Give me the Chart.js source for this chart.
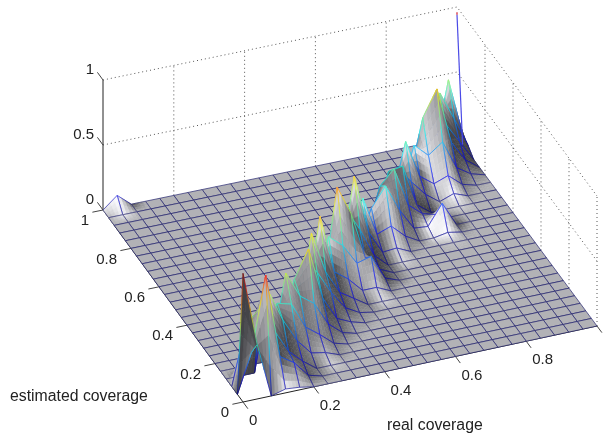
<!DOCTYPE html>
<html>
<head>
<meta charset="utf-8">
<title>coverage surface</title>
<script src="https://cdn.jsdelivr.net/npm/chart.js@4"></script>
<style>
  html, body { margin: 0; padding: 0; background: #fff; }
  canvas { display: block; }
</style>
</head>
<body>
<canvas id="chart" width="605" height="438"></canvas>
<script>
'use strict';

// grid is 26 x 26 vertices, 0.04 apart on both axes
const gridCells = 25;

const realTicks = [0, 0.2, 0.4, 0.6, 0.8];
const estimatedTicks = [0, 0.2, 0.4, 0.6, 0.8, 1];
const zTicks = [0, 0.5, 1];

// heights as [real cell, estimated cell, height]
// everything not listed is flat at 0
const ridgeTips = [
  [0, 0, 0.99], [2, 1, 0.87], [5, 5, 0.58], [7, 6, 0.66], [8, 8, 0.64], [9, 9, 0.69],
  [11, 11, 0.75], [13, 13, 0.67], [16, 15, 0.41], [17, 16, 0.46], [19, 19, 0.45],
  [21, 21, 0.47], [22, 21, 0.67], [24, 24, 0.52]
];
const ridgeValleys = [
  [1, 0, 0.42], [1, 1, 0.3], [1, 2, 0.45], [2, 2, 0.56], [3, 3, 0.6], [4, 4, 0.43],
  [6, 6, 0.45], [7, 7, 0.5], [10, 10, 0.45], [12, 12, 0.5], [14, 14, 0.42], [15, 15, 0.26],
  [16, 16, 0.35], [17, 17, 0.38], [18, 17, 0.4], [18, 18, 0.33], [20, 20, 0.34],
  [22, 22, 0.5], [23, 23, 0.5]
];
const frontFlanks = [
  [3, 2, 0.36], [3, 1, 0.22], [3, 0, 0.03],
  [4, 3, 0.36], [4, 2, 0.18], [4, 0, 0.02],
  [5, 4, 0.4], [5, 3, 0.18], [5, 2, 0.08], [5, 1, 0.03],
  [6, 5, 0.38], [6, 4, 0.2], [6, 3, 0.06],
  [7, 5, 0.3], [7, 4, 0.12], [7, 3, 0.04],
  [8, 7, 0.4], [8, 6, 0.26], [8, 5, 0.12], [8, 4, 0.03],
  [9, 8, 0.32], [9, 6, 0.08], [9, 5, 0.03],
  [10, 9, 0.24], [10, 8, 0.14], [10, 7, 0.08], [10, 6, 0.03],
  [11, 10, 0.36], [11, 9, 0.16], [11, 8, 0.07], [11, 7, 0.02],
  [12, 11, 0.52], [12, 9, 0.05],
  [13, 12, 0.32], [13, 11, 0.16], [13, 9, 0.05],
  [14, 13, 0.22], [14, 12, 0.1], [14, 11, 0.05], [14, 10, 0.04],
  [15, 14, 0.12], [15, 13, 0.04],
  [16, 14, 0.16], [16, 13, 0.05],
  [17, 15, 0.2], [17, 14, 0.06],
  [18, 15, 0.04],
  [19, 18, 0.2], [19, 17, 0.08], [19, 16, 0.07], [19, 15, 0.03],
  [20, 19, 0.16], [20, 18, 0.08], [20, 16, 0.04], [20, 14, 0.02],
  [21, 20, 0.24], [21, 19, 0.08],
  [22, 20, 0.32], [22, 19, 0.12], [22, 18, 0.04],
  [23, 22, 0.32], [23, 21, 0.24], [23, 20, 0.1], [23, 19, 0.03],
  [24, 23, 0.28], [24, 22, 0.16], [24, 21, 0.08], [24, 20, 0.03],
  [25, 24, 0.08], [25, 23, 0.05]
];
const sideBumps = [
  [4, 1, 0.15], [9, 7, 0.22], [12, 10, 0.2], [13, 10, 0.23], [18, 16, 0.16], [20, 15, 0.185], [1, 25, 0.09]
];
// thin line that goes up near the far corner
const cornerSpike = [[1, 0.96, 0], [1, 1, 0.94], [1, 1, 0.96]];

// where the axes box sits on the page, in scale units
const floorCorners = { x00: 243, y00: 402, x10: 597, y10: 326, x01: 103, y01: 210, x11: 457, y11: 137 };
const zHeight = 130;
const lightDir = [-0.5, -0.65, 0.57];
const slopeScale = 0.9;
const subSteps = 4;

let heights = [];
for (let i = 0; i <= gridCells; i++) {
  heights.push(new Array(gridCells + 1).fill(0));
}
for (const list of [ridgeTips, ridgeValleys, frontFlanks, sideBumps]) {
  for (const b of list) {
    heights[b[0]][b[1]] = b[2];
  }
}

function project(real, est, z) {
  const c = floorCorners;
  const a = (1 - real) * (1 - est), b = real * (1 - est), d = (1 - real) * est, e = real * est;
  return {
    x: a * c.x00 + b * c.x10 + d * c.x01 + e * c.x11,
    y: a * c.y00 + b * c.y10 + d * c.y01 + e * c.y11 - z * zHeight,
    z: z
  };
}

function jet(z) {
  const ramp = (v) => Math.max(0, Math.min(1, v));
  const r = ramp(Math.min(4 * z - 1.5, -4 * z + 4.5));
  const g = ramp(Math.min(4 * z - 0.5, -4 * z + 3.5));
  const b = ramp(Math.min(4 * z + 0.5, -4 * z + 2.5));
  return `rgb(${Math.round(r * 255)},${Math.round(g * 255)},${Math.round(b * 255)})`;
}

// vertex brightness from the surface normal
// the slope in estimated coverage leans on the side that faces the viewer
function vertexShade(i, j) {
  const h = (a, b) => heights[Math.max(0, Math.min(gridCells, a))][Math.max(0, Math.min(gridCells, b))];
  const dx = (h(i + 1, j) - h(i - 1, j)) / 0.08 * slopeScale;
  const dy = (0.75 * (h(i, j) - h(i, j - 1)) + 0.25 * (h(i, j + 1) - h(i, j))) / 0.04 * slopeScale;
  const len = Math.sqrt(dx * dx + dy * dy + 1);
  const d = Math.max(0, (-dx * lightDir[0] - dy * lightDir[1] + lightDir[2]) / len);
  return Math.min(1, 0.25 + 0.77 * d + 0.3 * Math.pow(d, 6));
}

let shades = [];
for (let i = 0; i <= gridCells; i++) {
  shades.push([]);
  for (let j = 0; j <= gridCells; j++) {
    shades[i].push(vertexShade(i, j));
  }
}

function grey(s) {
  const v = Math.round(s * 255);
  return `rgb(${v},${v},${Math.min(255, v + 4)})`;
}

const canvas = document.getElementById('chart');
const ctx2d = canvas.getContext('2d');
const floorLine = '#24246e';

function edgeColor(pts) {
  return function (c) {
    const a = pts[c.p0DataIndex], b = pts[c.p1DataIndex];
    if (a.z < 0.005 && b.z < 0.005) {
      return floorLine;
    }
    const g = ctx2d.createLinearGradient(c.p0.x, c.p0.y, c.p1.x, c.p1.y);
    for (let t = 0; t <= 1; t += 0.2) {
      g.addColorStop(Math.min(t, 1), jet(a.z + (b.z - a.z) * t));
    }
    return g;
  };
}

function polygon(pts, fillColor, lineColor, lineWidth) {
  return {
    data: pts,
    showLine: true,
    pointRadius: 0,
    fill: 'shape',
    backgroundColor: fillColor,
    borderColor: lineColor,
    borderWidth: lineWidth,
    tension: 0
  };
}

function polyline(pts, color, width, dash) {
  return {
    data: pts,
    showLine: true,
    pointRadius: 0,
    fill: false,
    borderColor: color,
    borderWidth: width,
    borderDash: dash || [],
    tension: 0
  };
}

// bits of the box behind the surface
let backLines = [];
const dots = [1, 3];
const boxColor = '#555';
for (const z of [0.5, 1]) {
  backLines.push(polyline([project(0, 1, z), project(1, 1, z), project(1, 0, z)], boxColor, 1, dots));
}
for (const t of [0.2, 0.4, 0.6, 0.8]) {
  backLines.push(polyline([project(t, 1, 0), project(t, 1, 1)], boxColor, 1, dots));
  backLines.push(polyline([project(1, t, 0), project(1, t, 1)], boxColor, 1, dots));
}
backLines.push(polyline([project(1, 0, 0), project(1, 0, 1)], boxColor, 1, dots));
backLines.push(polyline([project(0, 0, 0), project(1, 0, 0)], '#222', 1));
backLines.push(polyline([project(0, 0, 0), project(0, 1, 0)], '#222', 1));
backLines.push(polyline([project(0, 1, 0), project(0, 1, 1)], '#222', 1));
for (const t of realTicks.concat([1])) {
  backLines.push(polyline([project(t, 0, 0), project(t, -0.035, 0)], '#444', 1));
}
for (const t of estimatedTicks) {
  backLines.push(polyline([project(0, t, 0), project(-0.03, t, 0)], '#444', 1));
}
for (const z of zTicks) {
  backLines.push(polyline([project(0, 1, z), project(0, 1.04, z)], '#444', 1));
}

// surface cells, far corner first
let surface = [];
for (let i = gridCells - 1; i >= 0; i--) {
  for (let j = gridCells - 1; j >= 0; j--) {
    const zz = [heights[i][j], heights[i + 1][j], heights[i + 1][j + 1], heights[i][j + 1]];
    const ss = [shades[i][j], shades[i + 1][j], shades[i + 1][j + 1], shades[i][j + 1]];
    const r0 = i / gridCells, r1 = (i + 1) / gridCells, e0 = j / gridCells, e1 = (j + 1) / gridCells;
    const corners = [project(r0, e0, zz[0]), project(r1, e0, zz[1]), project(r1, e1, zz[2]), project(r0, e1, zz[3]), project(r0, e0, zz[0])];
    const flat = Math.max(...zz) === 0 && Math.max(...ss) - Math.min(...ss) < 0.002;
    if (flat) {
      surface.push(polygon(corners, grey(ss[0]), floorLine, 0.7));
      continue;
    }
    // one cell is drawn as small pieces so the shading runs smoothly across it
    const at = (list, u, v) => list[0] * (1 - u) * (1 - v) + list[1] * u * (1 - v) + list[2] * u * v + list[3] * (1 - u) * v;
    const vert = (u, v) => project(r0 + (r1 - r0) * u, e0 + (e1 - e0) * v, at(zz, u, v));
    for (let a = subSteps - 1; a >= 0; a--) {
      for (let b = subSteps - 1; b >= 0; b--) {
        const u0 = a / subSteps, u1 = (a + 1) / subSteps, v0 = b / subSteps, v1 = (b + 1) / subSteps;
        const col = grey(at(ss, (u0 + u1) / 2, (v0 + v1) / 2));
        surface.push(polygon([vert(u0, v0), vert(u1, v0), vert(u1, v1), vert(u0, v1), vert(u0, v0)], col, col, 0.5));
      }
    }
    const edge = polyline(corners, floorLine, 0.6);
    edge.segment = { borderColor: edgeColor(corners) };
    surface.push(edge);
  }
}

// blue all the way up with a red point at the very top
const spikePoints = cornerSpike.map((p) => project(p[0], p[1], p[2]));
const spike = polyline(spikePoints, '#4a4ae6', 1.2);
spike.segment = { borderColor: (c) => (c.p0DataIndex === 1 ? '#d02030' : '#4a4ae6') };

// painted from last dataset to first, so the list runs near to far
const datasets = backLines.concat(surface, [spike]).reverse();

const tickFont = '15px "Liberation Sans", Arial, sans-serif';
const titleFont = '15.8px "Liberation Sans", Arial, sans-serif';

const axisText = {
  id: 'axisText',
  afterDatasetsDraw(chart) {
    const c = chart.ctx;
    const sx = chart.scales.x, sy = chart.scales.y;
    const put = (text, p, dx, dy, align) => {
      c.textAlign = align;
      c.fillText(text, sx.getPixelForValue(p.x) + dx, sy.getPixelForValue(p.y) + dy);
    };
    c.save();
    c.font = tickFont;
    c.fillStyle = '#222';
    c.textBaseline = 'middle';
    for (const t of realTicks) {
      put(String(t), project(t, 0, 0), 6, 19, 'left');
    }
    for (const t of estimatedTicks) {
      put(String(t), project(0, t, 0), -14, 11, 'right');
    }
    for (const z of zTicks) {
      put(String(z), project(0, 1, z), -9, -10, 'right');
    }
    c.font = titleFont;
    c.textAlign = 'left';
    c.fillText('estimated coverage', 10, 397);
    c.fillText('real coverage', 387, 426);
    c.restore();
  }
};

new Chart(canvas, {
  type: 'scatter',
  data: { datasets: datasets },
  options: {
    responsive: false,
    animation: false,
    events: [],
    normalized: true,
    layout: { padding: 0 },
    plugins: { legend: { display: false }, tooltip: { enabled: false }, filler: { propagate: false } },
    scales: {
      x: { type: 'linear', min: 0, max: 605, display: false },
      y: { type: 'linear', min: 0, max: 438, reverse: true, display: false }
    }
  },
  plugins: [axisText]
});
</script>
</body>
</html>
